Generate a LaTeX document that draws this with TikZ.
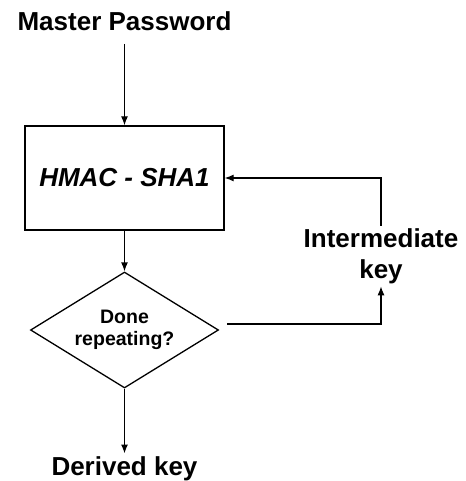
\documentclass[tikz,border=0pt]{standalone}
\usepackage{fontspec}
\usepackage{tikz}
\usetikzlibrary{shapes,arrows.meta,positioning,calc}
\newfontfamily\flowfont{Liberation Sans}

\begin{document}
\begin{tikzpicture}[x=1pt, y=-1pt, line width=1.3pt,
    flow/.style={-{Latex[length=9pt,width=7pt]}},
    lbl/.style={font=\flowfont\bfseries\fontsize{26}{31}\selectfont, inner sep=2pt, align=center},
    procbox/.style={draw, rectangle, minimum width=199pt, minimum height=104pt, font=\flowfont\bfseries\itshape\fontsize{26}{31}\selectfont},
    decision/.style={draw, diamond, aspect=1.62, inner sep=0pt, minimum width=188pt, minimum height=116pt, align=center, font=\flowfont\bfseries\fontsize{19.5}{22}\selectfont}]
    % Background
    \useasboundingbox (0,0) rectangle (465,481);
    \fill[white] (0,0) rectangle (465,481);

    % Main column
    \node[lbl, anchor=base] (master) at (124.5,31) {Master Password};
    \node[procbox] (hmac) at (124.5,178) {HMAC - SHA1};
    \node[decision] (check) at (124.5,330) {Done\\repeating?};
    \node[lbl, anchor=base] (derived) at (124.5,475) {Derived key};

    % Loop side
    \node[lbl] (interm) at (381,256) {Intermediate\\key};
    \coordinate (fork) at (227,324);

    % Arrows
    \draw[flow, shorten <=10pt] (master.south) -- (hmac.north);
    \draw[flow] (hmac.south) -- (check.north);
    \draw[flow] (check.south) -- (derived.north);
    \draw[flow] (fork) -| (interm.south);
    \draw[flow] (interm.north) |- (hmac.east);
\end{tikzpicture}
\end{document}
